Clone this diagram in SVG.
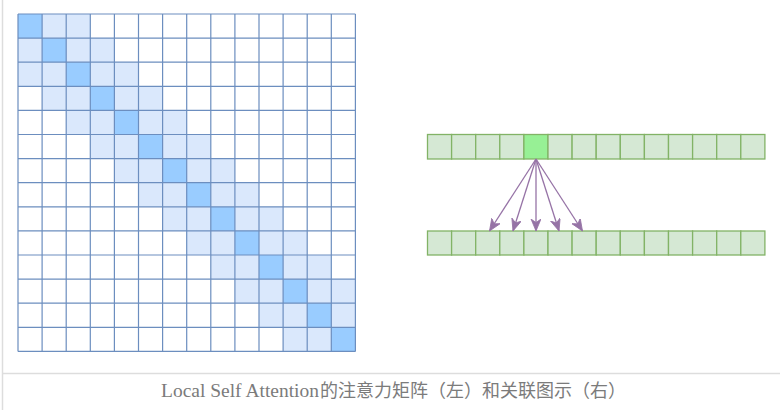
<svg xmlns="http://www.w3.org/2000/svg" width="780" height="410" viewBox="0 0 780 410">
<defs>
<style>
.lt{fill:#dae8fc}
.dk{fill:#99ccff}
.grid{fill:none;stroke:#6c8ebf;stroke-width:1.2}
.g{fill:#d5e8d4;stroke:#82b366;stroke-width:1.3}
.gh{fill:#97f095;stroke:#82b366;stroke-width:1.3}
.arr{fill:none;stroke:#9673a6;stroke-width:1.3;marker-end:url(#ah)}
.frame{stroke:#dddddd;stroke-width:1.5;fill:none}
.cap{font-family:"Liberation Serif","Noto Sans CJK SC",serif;font-size:17px;fill:#7b7b7b}
.capc{font-family:"Noto Sans CJK SC",sans-serif;font-size:18px;fill:#7b7b7b}
</style>
<marker id="ah" markerUnits="userSpaceOnUse" markerWidth="14" markerHeight="12" refX="12" refY="5" orient="auto" viewBox="0 0 14 12">
<path d="M0,0 L12,5 L0,10 L3.5,5 Z" fill="#9673a6" stroke="#9673a6" stroke-width="0.8"/>
</marker>
</defs>
<rect width="780" height="410" fill="#ffffff"/>
<path class="frame" d="M2.5,0 V410 M2,373.5 H780"/>
<g id="matrix">
<rect x="18" y="14" width="337.4" height="337.4" fill="#ffffff"/>
<rect class="lt" x="18" y="14" width="72.3" height="24.1"/>
<rect class="lt" x="18" y="38.1" width="96.4" height="24.1"/>
<rect class="lt" x="18" y="62.2" width="120.5" height="24.1"/>
<rect class="lt" x="42.1" y="86.3" width="120.5" height="24.1"/>
<rect class="lt" x="66.2" y="110.4" width="120.5" height="24.1"/>
<rect class="lt" x="90.3" y="134.5" width="120.5" height="24.1"/>
<rect class="lt" x="114.4" y="158.6" width="120.5" height="24.1"/>
<rect class="lt" x="138.5" y="182.7" width="120.5" height="24.1"/>
<rect class="lt" x="162.6" y="206.8" width="120.5" height="24.1"/>
<rect class="lt" x="186.7" y="230.9" width="120.5" height="24.1"/>
<rect class="lt" x="210.8" y="255" width="120.5" height="24.1"/>
<rect class="lt" x="234.9" y="279.1" width="120.5" height="24.1"/>
<rect class="lt" x="259" y="303.2" width="96.4" height="24.1"/>
<rect class="lt" x="283.1" y="327.3" width="72.3" height="24.1"/>
<rect class="dk" x="18" y="14" width="24.1" height="24.1"/>
<rect class="dk" x="42.1" y="38.1" width="24.1" height="24.1"/>
<rect class="dk" x="66.2" y="62.2" width="24.1" height="24.1"/>
<rect class="dk" x="90.3" y="86.3" width="24.1" height="24.1"/>
<rect class="dk" x="114.4" y="110.4" width="24.1" height="24.1"/>
<rect class="dk" x="138.5" y="134.5" width="24.1" height="24.1"/>
<rect class="dk" x="162.6" y="158.6" width="24.1" height="24.1"/>
<rect class="dk" x="186.7" y="182.7" width="24.1" height="24.1"/>
<rect class="dk" x="210.8" y="206.8" width="24.1" height="24.1"/>
<rect class="dk" x="234.9" y="230.9" width="24.1" height="24.1"/>
<rect class="dk" x="259" y="255" width="24.1" height="24.1"/>
<rect class="dk" x="283.1" y="279.1" width="24.1" height="24.1"/>
<rect class="dk" x="307.2" y="303.2" width="24.1" height="24.1"/>
<rect class="dk" x="331.3" y="327.3" width="24.1" height="24.1"/>
<path class="grid" d="M18,14 V351.4 M42.1,14 V351.4 M66.2,14 V351.4 M90.3,14 V351.4 M114.4,14 V351.4 M138.5,14 V351.4 M162.6,14 V351.4 M186.7,14 V351.4 M210.8,14 V351.4 M234.9,14 V351.4 M259,14 V351.4 M283.1,14 V351.4 M307.2,14 V351.4 M331.3,14 V351.4 M355.4,14 V351.4 M18,14 H355.4 M18,38.1 H355.4 M18,62.2 H355.4 M18,86.3 H355.4 M18,110.4 H355.4 M18,134.5 H355.4 M18,158.6 H355.4 M18,182.7 H355.4 M18,206.8 H355.4 M18,230.9 H355.4 M18,255 H355.4 M18,279.1 H355.4 M18,303.2 H355.4 M18,327.3 H355.4 M18,351.4 H355.4"/>
</g>
<g id="top-row">
<rect class="g" x="427.5" y="134.5" width="24.1" height="24.5"/>
<rect class="g" x="451.6" y="134.5" width="24.1" height="24.5"/>
<rect class="g" x="475.7" y="134.5" width="24.1" height="24.5"/>
<rect class="g" x="499.8" y="134.5" width="24.1" height="24.5"/>
<rect class="gh" x="523.9" y="134.5" width="24.1" height="24.5"/>
<rect class="g" x="548" y="134.5" width="24.1" height="24.5"/>
<rect class="g" x="572.1" y="134.5" width="24.1" height="24.5"/>
<rect class="g" x="596.2" y="134.5" width="24.1" height="24.5"/>
<rect class="g" x="620.3" y="134.5" width="24.1" height="24.5"/>
<rect class="g" x="644.4" y="134.5" width="24.1" height="24.5"/>
<rect class="g" x="668.5" y="134.5" width="24.1" height="24.5"/>
<rect class="g" x="692.6" y="134.5" width="24.1" height="24.5"/>
<rect class="g" x="716.7" y="134.5" width="24.1" height="24.5"/>
<rect class="g" x="740.8" y="134.5" width="24.1" height="24.5"/>
</g>
<g id="bottom-row">
<rect class="g" x="427.5" y="231" width="24.1" height="24"/>
<rect class="g" x="451.6" y="231" width="24.1" height="24"/>
<rect class="g" x="475.7" y="231" width="24.1" height="24"/>
<rect class="g" x="499.8" y="231" width="24.1" height="24"/>
<rect class="g" x="523.9" y="231" width="24.1" height="24"/>
<rect class="g" x="548" y="231" width="24.1" height="24"/>
<rect class="g" x="572.1" y="231" width="24.1" height="24"/>
<rect class="g" x="596.2" y="231" width="24.1" height="24"/>
<rect class="g" x="620.3" y="231" width="24.1" height="24"/>
<rect class="g" x="644.4" y="231" width="24.1" height="24"/>
<rect class="g" x="668.5" y="231" width="24.1" height="24"/>
<rect class="g" x="692.6" y="231" width="24.1" height="24"/>
<rect class="g" x="716.7" y="231" width="24.1" height="24"/>
<rect class="g" x="740.8" y="231" width="24.1" height="24"/>
</g>
<g id="connectors">
<path class="arr" d="M536,159 L489.5,231"/>
<path class="arr" d="M536,159 L513,231"/>
<path class="arr" d="M536,159 L536,231"/>
<path class="arr" d="M536,159 L559,231"/>
<path class="arr" d="M536,159 L582.5,231"/>
</g>
<text class="cap" y="397"><tspan x="161" textLength="158" lengthAdjust="spacingAndGlyphs" font-size="18">Local Self Attention</tspan><tspan class="capc" x="320">的注意力矩阵（左）和关联图示（右）</tspan></text>
</svg>
